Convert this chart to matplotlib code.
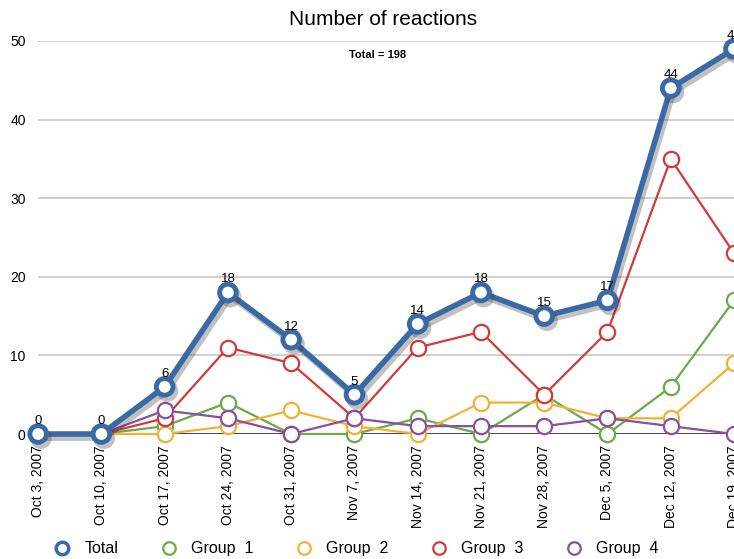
import matplotlib.pyplot as plt
import matplotlib.patheffects as pe
from matplotlib.lines import Line2D

plt.rcParams['font.family'] = ['Liberation Sans', 'DejaVu Sans']

dates = ["Oct 3, 2007", "Oct 10, 2007", "Oct 17, 2007", "Oct 24, 2007", "Oct 31, 2007",
         "Nov 7, 2007", "Nov 14, 2007", "Nov 21, 2007", "Nov 28, 2007", "Dec 5, 2007",
         "Dec 12, 2007", "Dec 19, 2007"]
total = [0, 0, 6, 18, 12, 5, 14, 18, 15, 17, 44, 49]
group1 = [0, 0, 1, 4, 0, 0, 2, 0, 5, 0, 6, 17]
group2 = [0, 0, 0, 1, 3, 1, 0, 4, 4, 2, 2, 9]
group3 = [0, 0, 2, 11, 9, 2, 11, 13, 5, 13, 35, 23]
group4 = [0, 0, 3, 2, 0, 2, 1, 1, 1, 2, 1, 0]

c_total = '#3a6aa6'
c_g1 = '#6aaa48'
c_g2 = '#f2b134'
c_g3 = '#d23a3a'
c_g4 = '#8b4f9e'

fig = plt.figure(figsize=(7.34, 5.59), dpi=100)
ax = fig.add_axes([0.052, 0.2236, 0.948, 0.7031])

x = list(range(len(dates)))

for yy in [10, 20, 30, 40, 50]:
    ax.axhline(yy, color='#c8c8c8', lw=1.2, zorder=0)
ax.axhline(0, color='#222222', lw=1.2, zorder=1)

groups = [(group1, c_g1, 'Group  1'), (group2, c_g2, 'Group  2'),
          (group3, c_g3, 'Group  3'), (group4, c_g4, 'Group  4')]
for vals, col, lab in groups:
    ax.plot(x, vals, color=col, lw=1.6, marker='o', ms=11, mfc='white',
            mec=col, mew=1.6, clip_on=False, zorder=3)

ax.plot(x, total, color=c_total, lw=4, marker='o', ms=12, mfc='white',
        mec=c_total, mew=3.5, clip_on=False, zorder=5,
        path_effects=[pe.SimpleLineShadow(offset=(2, -3), shadow_color='#333333', alpha=0.3),
                      pe.Normal()])

for xi, v in zip(x, total):
    ax.text(xi, v + 0.9, str(v), ha='center', va='bottom', fontsize=9.5, zorder=6)

ax.set_xlim(0, 11)
ax.set_ylim(0, 50)
ax.set_yticks([0, 10, 20, 30, 40, 50])
ax.set_xticks(x)
ax.set_xticklabels(dates, rotation=90, fontsize=10)
ax.tick_params(axis='both', length=0, labelsize=10)
ax.tick_params(axis='x', pad=8)
ax.tick_params(axis='y', pad=9)
for s in ax.spines.values():
    s.set_visible(False)

fig.text(0.522, 0.965, 'Number of reactions', ha='center', va='center', fontsize=15)
fig.text(0.514, 0.901, 'Total = 198', ha='center', va='center', fontsize=8, fontweight='bold')

handles = [Line2D([], [], ls='', marker='o', ms=9, mfc='white', mec=c_total, mew=2.5)]
labels = ['Total']
for vals, col, lab in groups:
    handles.append(Line2D([], [], ls='', marker='o', ms=9, mfc='white', mec=col, mew=1.6))
    labels.append(lab)
fig.legend(handles, labels, loc='center', bbox_to_anchor=(0.48, 0.018), ncol=5,
           frameon=False, fontsize=11.5, columnspacing=2.15, handletextpad=0.4)

fig.savefig('out.png', dpi=100)
